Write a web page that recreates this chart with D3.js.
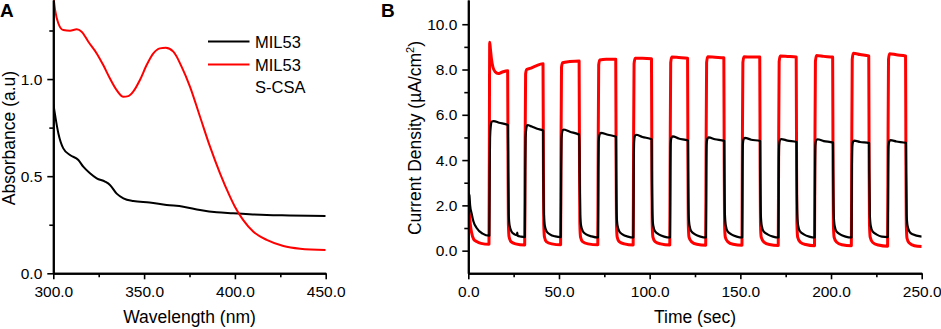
<!DOCTYPE html>
<html>
<head>
<meta charset="utf-8">
<script src="https://cdn.jsdelivr.net/npm/d3@7"></script>
<style>
  body { margin: 0; background: #fff; }
  svg { display: block; font-family: "Liberation Sans", Arial, sans-serif; }
  .axis path, .axis line { stroke: #000; }
  .axis path { stroke-width: 2; }
  .axis line { stroke-width: 1.6; }
  .axis text { font-size: 15.5px; fill: #000; font-family: "Liberation Sans", Arial, sans-serif; }
</style>
</head>
<body>
<div class="chart"></div>
<script>
// ------------------------------------------ data: panel A (UV-vis) ------------------------------------------
const absWavelengthTicks = [300, 350, 400, 450];
const absWavelengthMinor = [325, 375, 425];
const absTicks = [0, 0.5, 1.0];
const absMinor = [0.25, 0.75, 1.25];

// [wavelength nm, absorbance]
const mil53 = [
  [300, 0.875], [302.8, 0.72], [305.5, 0.643], [309.2, 0.609], [313.8, 0.583], [316.5, 0.549],
  [320.2, 0.515], [323.9, 0.489], [328.5, 0.472], [331.2, 0.455], [334.9, 0.41], [338.6, 0.386],
  [344, 0.372], [353, 0.364], [362.4, 0.352], [371.6, 0.343], [380.8, 0.326], [390, 0.314],
  [399, 0.309], [408, 0.304], [417.5, 0.300], [430, 0.298], [450, 0.295]
];
const mil53csa = [
  [300, 1.43], [301, 1.355], [302.8, 1.286], [305.5, 1.252], [309.2, 1.249], [312.9, 1.256],
  [315.6, 1.244], [319.3, 1.192], [323.9, 1.132], [327.5, 1.072], [331.2, 1.003], [334.9, 0.943],
  [338.6, 0.909], [341.3, 0.912], [344, 0.935], [347.7, 0.995], [351.4, 1.072], [355.1, 1.132],
  [358.7, 1.158], [361.9, 1.161], [366.1, 1.141], [370.7, 1.063], [375.3, 0.96], [380.8, 0.806],
  [386.3, 0.652], [391.8, 0.515], [397.3, 0.395], [400, 0.343], [404.6, 0.274], [410.2, 0.214],
  [417.5, 0.172], [426.7, 0.141], [435.9, 0.127], [450, 0.12]
];
const legendLabels = [["MIL53"], ["MIL53", "S-CSA"]];

// ------------------------------------------ data: panel B (photocurrent) ------------------------------------
const timeTicks = [0, 50, 100, 150, 200, 250];
const timeMinor = [25, 75, 125, 175, 225];
const currentTicks = [0, 2, 4, 6, 8, 10];
const currentMinor = [1, 3, 5, 7, 9];

// [time s, current density uA/cm2]
const currentCsa = [
  [0, 1.75], [0.6, 1.6], [1.2, 1.1], [1.8, 0.8], [3, 0.5], [4.6, 0.4], [7, 0.32], [11.4, 0.28],
  [11.6, 4.5], [11.8, 9.2], [12.2, 8.9], [12.8, 8.45], [13.6, 8.1], [14.8, 7.9], [16.5, 7.82], [18.5, 7.88], [21.7, 7.95],
  [21.9, 4.0], [22.1, 1.2], [22.5, 0.6], [23.5, 0.4], [26, 0.3], [31.1, 0.25],
  [31.3, 4.0], [31.6, 7.8], [32.2, 8.0], [34, 8.05], [37, 8.15], [41.2, 8.25],
  [41.4, 4.0], [41.6, 1.2], [42, 0.6], [43, 0.4], [46, 0.3], [50.9, 0.26],
  [51.1, 4.0], [51.4, 8.1], [52, 8.3], [56, 8.35], [61.1, 8.38],
  [61.3, 4.0], [61.5, 1.2], [61.9, 0.6], [63, 0.4], [66, 0.3], [71.4, 0.26],
  [71.6, 4.0], [71.9, 8.2], [72.5, 8.42], [76, 8.45], [81.3, 8.45],
  [81.5, 4.0], [81.7, 1.2], [82.1, 0.6], [83.2, 0.4], [86, 0.3], [90.9, 0.25],
  [91.1, 4.0], [91.4, 8.25], [92, 8.5], [96, 8.5], [101, 8.48],
  [101.2, 4.0], [101.4, 1.2], [101.8, 0.6], [103, 0.4], [106, 0.3], [111.1, 0.25],
  [111.3, 4.0], [111.6, 8.3], [112.2, 8.55], [116, 8.53], [120.9, 8.5],
  [121.1, 4.0], [121.3, 1.2], [121.7, 0.6], [123, 0.4], [126, 0.28], [130.9, 0.24],
  [131.1, 4.0], [131.4, 8.3], [132, 8.56], [136, 8.54], [140.9, 8.52],
  [141.1, 4.0], [141.3, 1.2], [141.7, 0.6], [143, 0.4], [146, 0.28], [150.9, 0.24],
  [151.1, 4.0], [151.4, 8.3], [152, 8.56], [156, 8.55], [160.7, 8.55],
  [160.9, 4.0], [161.1, 1.2], [161.5, 0.6], [163, 0.38], [166, 0.27], [170.9, 0.23],
  [171.1, 4.0], [171.4, 8.35], [172, 8.6], [176, 8.58], [180.8, 8.55],
  [181, 4.0], [181.2, 1.2], [181.6, 0.6], [183, 0.38], [186, 0.27], [190.9, 0.22],
  [191.1, 4.0], [191.4, 8.35], [192, 8.62], [196, 8.58], [200.9, 8.55],
  [201.1, 4.0], [201.3, 1.2], [201.7, 0.6], [203, 0.38], [206, 0.26], [211.2, 0.22],
  [211.4, 4.0], [211.7, 8.45], [212.3, 8.72], [216, 8.66], [220.8, 8.6],
  [221, 4.0], [221.2, 1.2], [221.6, 0.6], [223, 0.36], [226, 0.25], [231.2, 0.2],
  [231.4, 4.0], [231.7, 8.45], [232.3, 8.7], [236, 8.65], [241.1, 8.6],
  [241.3, 4.0], [241.5, 1.2], [241.9, 0.55], [243, 0.35], [246, 0.22], [250, 0.18]
];
const currentMil53 = [
  [0, 2.55], [0.6, 2.45], [1.0, 2.0], [1.8, 1.65], [2.8, 1.3], [4.6, 1.0], [7.9, 0.75], [11.6, 0.66],
  [11.8, 3.5], [12, 5.0], [12.4, 5.5], [13, 5.7], [14, 5.72], [17, 5.65], [21.8, 5.55],
  [22, 3.5], [22.3, 1.6], [22.8, 1.1], [23.8, 0.85], [25.5, 0.72], [26.8, 0.68], [27, 0.8], [27.2, 0.66], [29, 0.62], [31.2, 0.6],
  [31.4, 3.5], [31.6, 5.0], [32, 5.4], [32.6, 5.55], [35, 5.48], [38, 5.38], [41.3, 5.3],
  [41.4, 3.5], [41.7, 1.6], [42.2, 1.1], [43.2, 0.85], [45, 0.72], [48, 0.63], [51, 0.6],
  [51.2, 3.5], [51.4, 4.9], [51.8, 5.25], [52.4, 5.35], [56, 5.25], [61.2, 5.12],
  [61.4, 3.5], [61.7, 1.6], [62.2, 1.1], [63.2, 0.85], [65, 0.72], [68, 0.63], [71.5, 0.58],
  [71.7, 3.5], [71.9, 4.8], [72.3, 5.1], [73, 5.2], [77, 5.12], [81.4, 5.03],
  [81.5, 3.5], [81.8, 1.6], [82.3, 1.1], [83.3, 0.85], [85, 0.72], [88, 0.62], [91, 0.58],
  [91.2, 3.5], [91.4, 4.8], [91.8, 5.05], [92.5, 5.12], [96, 5.02], [101.1, 4.92],
  [101.2, 3.5], [101.5, 1.6], [102, 1.1], [103, 0.85], [105, 0.72], [108, 0.62], [111.2, 0.58],
  [111.4, 3.5], [111.6, 4.75], [112, 4.98], [112.7, 5.05], [116, 4.95], [121.1, 4.86],
  [121.2, 3.5], [121.5, 1.6], [122, 1.1], [123, 0.85], [125, 0.72], [128, 0.62], [131, 0.58],
  [131.2, 3.5], [131.4, 4.7], [131.8, 4.93], [132.5, 5.0], [136, 4.92], [141.1, 4.85],
  [141.2, 3.5], [141.5, 1.6], [142, 1.1], [143, 0.85], [145, 0.72], [148, 0.62], [151, 0.58],
  [151.2, 3.5], [151.4, 4.7], [151.8, 4.92], [152.5, 4.98], [156, 4.9], [160.9, 4.84],
  [161, 3.5], [161.3, 1.6], [161.8, 1.1], [162.8, 0.85], [165, 0.72], [168, 0.62], [171, 0.58],
  [171.2, 3.5], [171.4, 4.65], [171.8, 4.87], [172.5, 4.93], [176, 4.86], [181, 4.8],
  [181.1, 3.5], [181.4, 1.6], [181.9, 1.1], [182.9, 0.85], [185, 0.72], [188, 0.62], [191, 0.58],
  [191.2, 3.5], [191.4, 4.65], [191.8, 4.86], [192.5, 4.92], [196, 4.84], [201.1, 4.77],
  [201.2, 3.5], [201.5, 1.6], [202, 1.1], [203, 0.85], [205, 0.72], [208, 0.62], [211.3, 0.58],
  [211.5, 3.5], [211.7, 4.6], [212.1, 4.8], [212.8, 4.86], [216, 4.8], [221, 4.75],
  [221.1, 3.5], [221.4, 1.6], [221.9, 1.1], [222.9, 0.85], [225, 0.72], [228, 0.62], [231.3, 0.6],
  [231.5, 3.5], [231.7, 4.6], [232.1, 4.82], [232.8, 4.88], [236, 4.82], [241.3, 4.76],
  [241.4, 3.5], [241.7, 1.6], [242.2, 1.1], [243.2, 0.85], [245, 0.72], [250, 0.62]
];

// ------------------------------------------ chart ------------------------------------------
const W = 941, H = 329;
const svg = d3.select(".chart").append("svg").attr("width", W).attr("height", H);
const fmt = d3.format(".1f");

function drawAxes(x, y, xt, xm, yt, ym) {
  const bottom = y.range()[0];
  const left = x.range()[0];
  svg.append("g").attr("class", "axis").attr("transform", "translate(0," + bottom + ")")
    .call(d3.axisBottom(x).tickValues(xm).tickSize(4).tickSizeOuter(0).tickFormat(""));
  svg.append("g").attr("class", "axis").attr("transform", "translate(0," + bottom + ")")
    .call(d3.axisBottom(x).tickValues(xt).tickSize(6).tickSizeOuter(0).tickPadding(7).tickFormat(fmt));
  svg.append("g").attr("class", "axis").attr("transform", "translate(" + left + ",0)")
    .call(d3.axisLeft(y).tickValues(ym).tickSize(4).tickSizeOuter(0).tickFormat(""));
  svg.append("g").attr("class", "axis").attr("transform", "translate(" + left + ",0)")
    .call(d3.axisLeft(y).tickValues(yt).tickSize(6).tickSizeOuter(0).tickPadding(5).tickFormat(fmt));
}

function addClip(id, x, y) {
  svg.append("clipPath").attr("id", id).append("rect")
    .attr("x", x.range()[0]).attr("y", y.range()[1])
    .attr("width", x.range()[1] - x.range()[0]).attr("height", y.range()[0] - y.range()[1]);
}

// ---- panel A
const xA = d3.scaleLinear().domain([300, 450]).range([53.3, 325.7]);
const yA = d3.scaleLinear().domain([0, 1.407]).range([273.3, 0]);
addClip("clipA", xA, yA);
const lineA = d3.line().x(d => xA(d[0])).y(d => yA(d[1])).curve(d3.curveMonotoneX);

svg.append("path").datum(mil53).attr("d", lineA).attr("fill", "none")
  .attr("stroke", "#000").attr("stroke-width", 2).attr("clip-path", "url(#clipA)");
svg.append("path").datum(mil53csa).attr("d", lineA).attr("fill", "none")
  .attr("stroke", "#ff0000").attr("stroke-width", 2).attr("clip-path", "url(#clipA)");

drawAxes(xA, yA, absWavelengthTicks, absWavelengthMinor, absTicks, absMinor);

// legend
const legColors = ["#000", "#ff0000"];
const legY = [41.5, 64.5];
legendLabels.forEach((lines, i) => {
  svg.append("line").attr("x1", 208).attr("x2", 249.5).attr("y1", legY[i]).attr("y2", legY[i])
    .attr("stroke", legColors[i]).attr("stroke-width", 2);
  lines.forEach((t, j) => {
    svg.append("text").attr("x", 255).attr("y", legY[i] + 6 + j * 22.5)
      .attr("font-size", "16.5px").text(t);
  });
});

svg.append("text").attr("x", (xA.range()[0] + xA.range()[1]) / 2).attr("y", 323)
  .attr("text-anchor", "middle").attr("font-size", "17.5px").text("Wavelength (nm)");
svg.append("text").attr("transform", "translate(14.5,138) rotate(-90)")
  .attr("text-anchor", "middle").attr("font-size", "17.5px").text("Absorbance (a.u)");
svg.append("text").attr("x", 0).attr("y", 17).attr("font-size", "19px").attr("font-weight", "bold").text("A");

// ---- panel B
const xB = d3.scaleLinear().domain([0, 250]).range([468.3, 921.7]);
const yB = d3.scaleLinear().domain([-1, 11.07]).range([273.3, 0]);
addClip("clipB", xB, yB);
const lineB = d3.line().x(d => xB(d[0])).y(d => yB(d[1])).curve(d3.curveMonotoneX);

svg.append("path").datum(currentCsa).attr("d", lineB).attr("fill", "none")
  .attr("stroke", "#ff0000").attr("stroke-width", 3).attr("stroke-linejoin", "round")
  .attr("clip-path", "url(#clipB)");
svg.append("path").datum(currentMil53).attr("d", lineB).attr("fill", "none")
  .attr("stroke", "#000").attr("stroke-width", 2.2).attr("stroke-linejoin", "round")
  .attr("clip-path", "url(#clipB)");

drawAxes(xB, yB, timeTicks, timeMinor, currentTicks, currentMinor);

svg.append("text").attr("x", (xB.range()[0] + xB.range()[1]) / 2).attr("y", 323)
  .attr("text-anchor", "middle").attr("font-size", "17.5px").text("Time (sec)");
const yLab = svg.append("text").attr("transform", "translate(421,138) rotate(-90)")
  .attr("text-anchor", "middle").attr("font-size", "17.5px");
yLab.append("tspan").text("Current Density (µA/cm");
yLab.append("tspan").attr("font-size", "11px").attr("dy", -7).text("2");
yLab.append("tspan").attr("dy", 7).text(")");
svg.append("text").attr("x", 381).attr("y", 17).attr("font-size", "19px").attr("font-weight", "bold").text("B");
</script>
</body>
</html>
